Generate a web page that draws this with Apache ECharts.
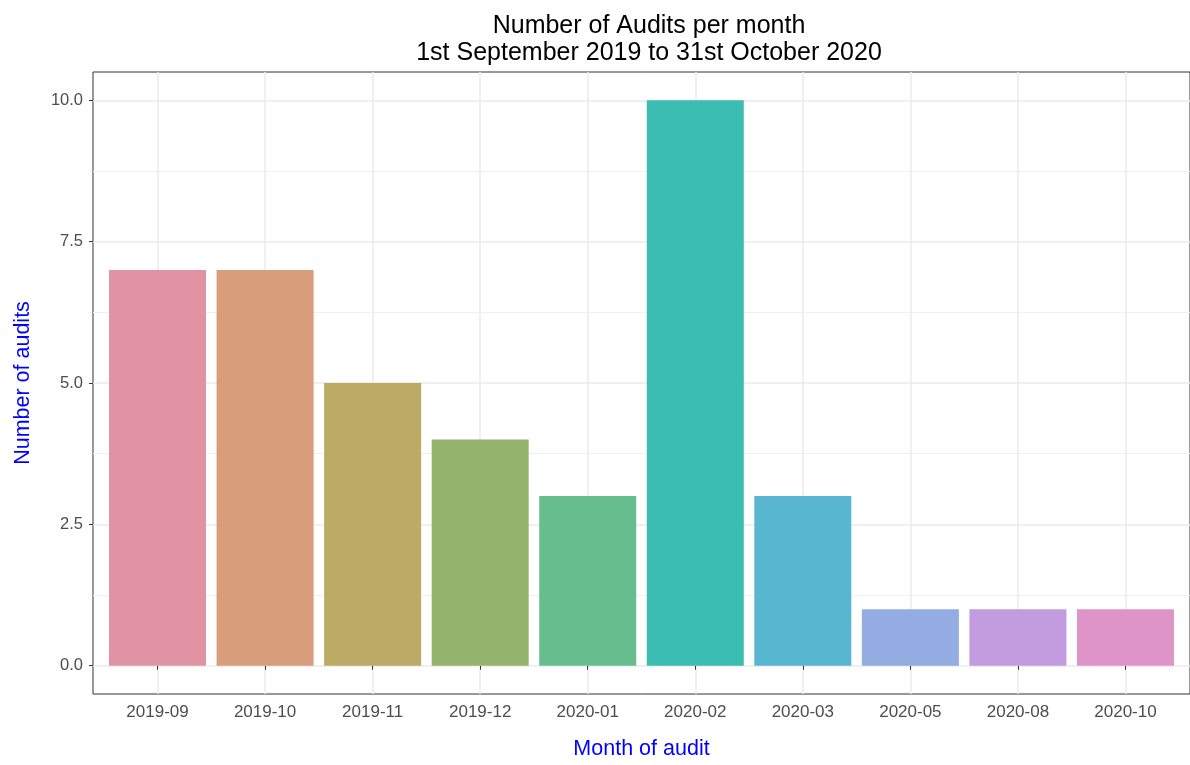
<!DOCTYPE html>
<html>
    <head>
        <meta charset="utf-8">
        <title>Number of Audits per month</title>
        <style>
            body{
                margin:0;
                background-color:#FFFFFF;
            }
            #main{
                width:1190px;
                height:765px;
            }
        </style>
    </head>
    <body>
        <div id="main"></div>
    </body>

    <script src="https://cdn.jsdelivr.net/npm/echarts@6/dist/echarts.min.js"></script>

    <script>
        var months = ["2019-09","2019-10","2019-11","2019-12","2020-01","2020-02","2020-03","2020-05","2020-08","2020-10"];
        var audits = [7, 7, 5, 4, 3, 10, 3, 1, 1, 1];
        var barColors = ["#E293A3","#D89D7B","#BDAA64","#95B46E","#67BD8D","#3BBDB1","#58B6D0","#93ADE2","#C29CDF","#DE94C9"];
        var yTicks = [0, 2.5, 5, 7.5, 10];
        var yMinor = [1.25, 3.75, 6.25, 8.75];

        var xPos = months.map(function(m, i){ return i + 1; });

        var barData = audits.map(function(v, i){
            return {value: [xPos[i], v], itemStyle: {color: barColors[i]}};
        });

        var myChart = echarts.init(document.getElementById('main'));

        var font = 'Liberation Sans, Arial, sans-serif';

        var option = {
            animation: false,
            title: {
                text: 'Number of Audits per month\n1st September 2019 to 31st October 2020',
                left: 644,
                top: 8,
                textAlign: 'center',
                textStyle: {
                    fontFamily: font,
                    fontSize: 25,
                    fontWeight: 'normal',
                    color: '#000000',
                    lineHeight: 27
                }
            },
            grid: {
                left: 93,
                top: 72,
                width: 1102,
                height: 627,
                show: true,
                borderColor: '#333333',
                borderWidth: 1,
                backgroundColor: '#FFFFFF'
            },
            xAxis: [{
                type: 'value',
                min: 0.4,
                max: 10.6,
                name: 'Month of audit',
                nameLocation: 'middle',
                nameGap: 44,
                nameTextStyle: {fontFamily: font, fontSize: 21.5, color: '#0000FF'},
                axisLine: {show: false},
                axisTick: {show: true, customValues: xPos, length: 4, lineStyle: {color: '#333333'}},
                axisLabel: {
                    customValues: xPos,
                    margin: 10,
                    fontFamily: font,
                    fontSize: 17,
                    color: '#4D4D4D',
                    formatter: function(v){ return months[Math.round(v) - 1]; }
                },
                splitLine: {show: true, lineStyle: {color: '#EBEBEB', width: 1.5}}
            }],
            yAxis: [{
                type: 'value',
                min: -0.5,
                max: 10.5,
                name: 'Number of audits',
                nameLocation: 'middle',
                nameGap: 59,
                nameTextStyle: {fontFamily: font, fontSize: 21.5, color: '#0000FF'},
                axisLine: {show: false},
                axisTick: {show: true, customValues: yTicks, length: 4, lineStyle: {color: '#333333'}},
                axisLabel: {
                    customValues: yTicks,
                    margin: 10,
                    fontFamily: font,
                    fontSize: 16.5,
                    color: '#4D4D4D',
                    formatter: function(v){ return v.toFixed(1); }
                },
                splitLine: {show: true, lineStyle: {color: '#EBEBEB', width: 1.5}}
            }, {
                // minor grid lines
                type: 'value',
                min: -0.5,
                max: 10.5,
                position: 'left',
                axisLine: {show: false},
                axisTick: {show: false, customValues: yMinor},
                axisLabel: {show: false, customValues: yMinor},
                splitLine: {show: true, lineStyle: {color: '#F0F0F0', width: 1}}
            }],
            series: [{
                name: 'audits',
                type: 'bar',
                barWidth: 97,
                data: barData
            }]
        };

        myChart.setOption(option);
    </script>

</html>
